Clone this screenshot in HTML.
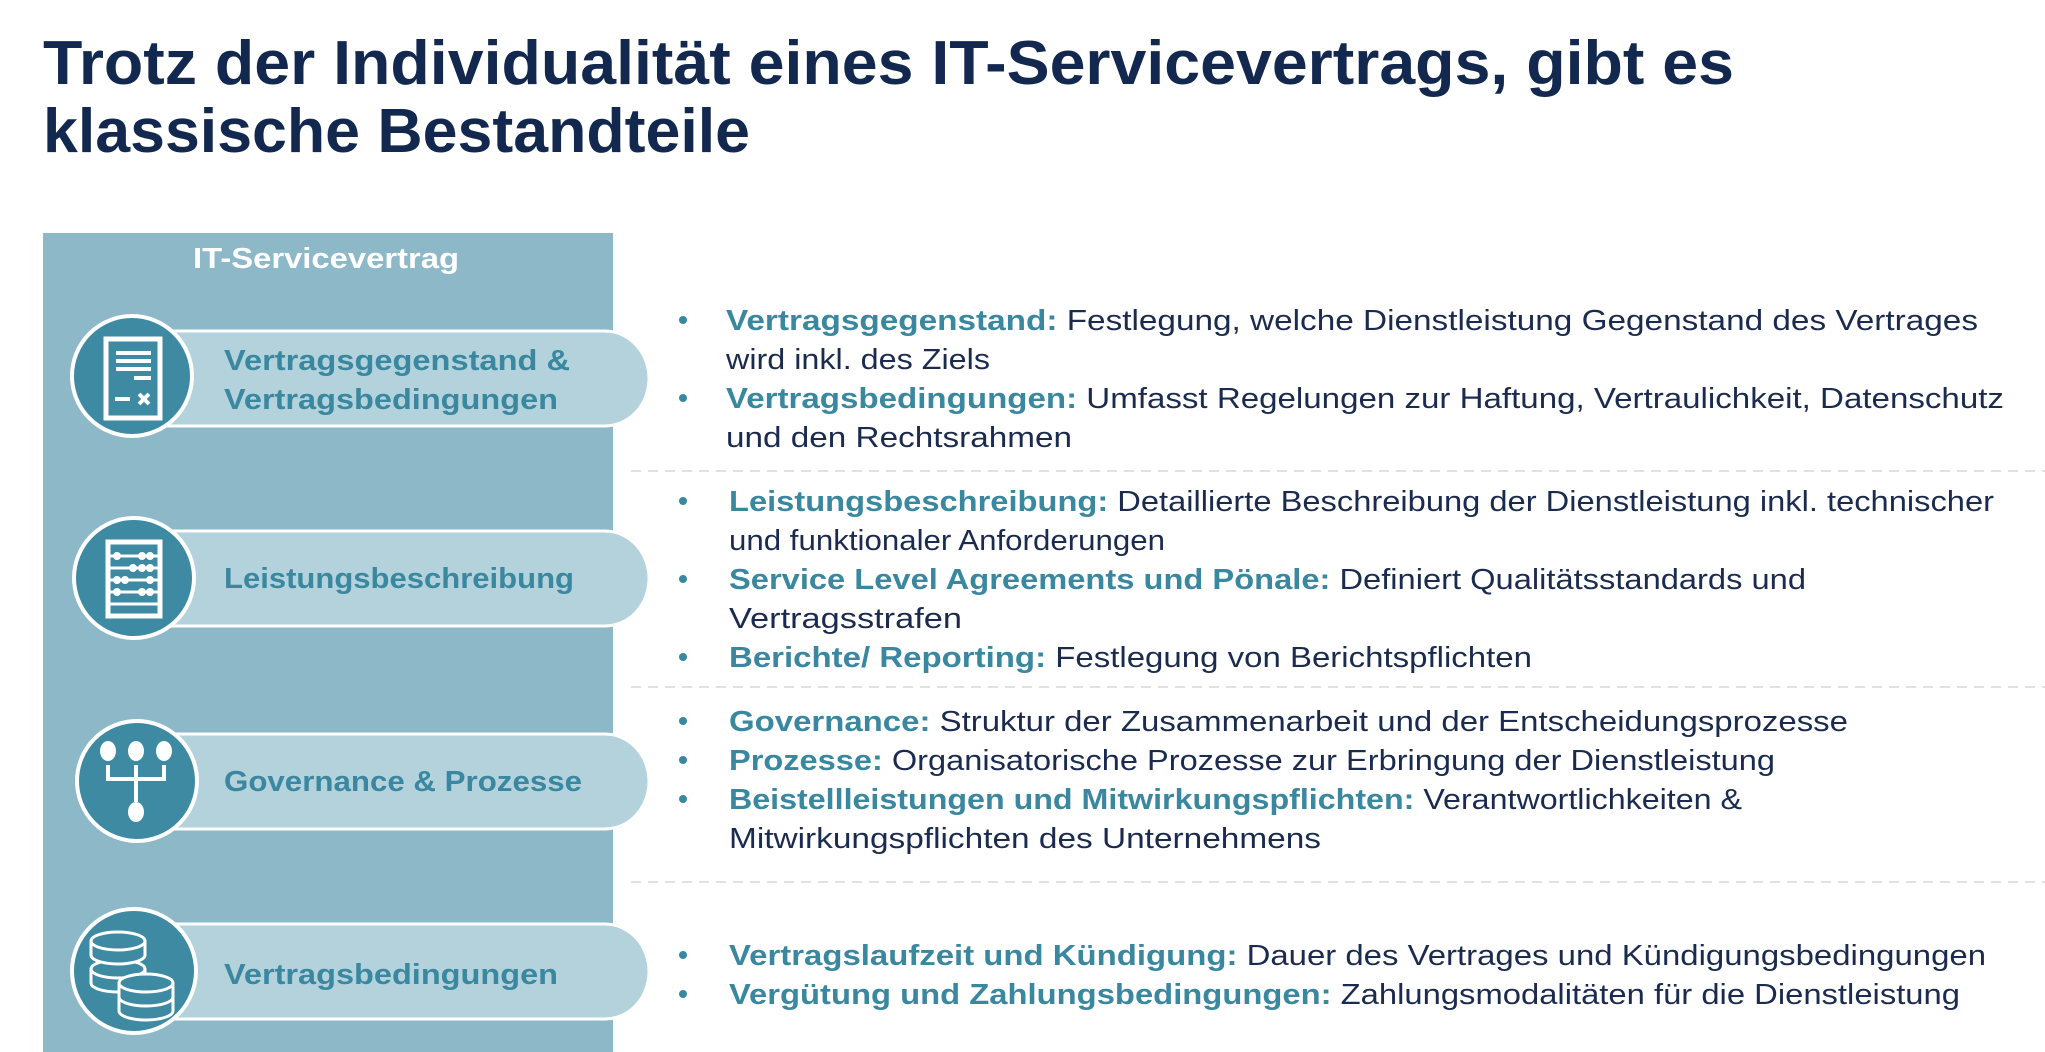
<!DOCTYPE html>
<html><head><meta charset="utf-8"><style>
html,body{margin:0;padding:0;background:#fff;}
svg{display:block;}
text{font-family:"Liberation Sans",sans-serif;}
.t{fill:#13284f;font-weight:bold;font-size:62px;}
.p{fill:#3a87a0;font-weight:bold;font-size:29px;}
.b{fill:#1b2b4f;font-size:29px;}
.k{fill:#3a87a0;font-weight:bold;}
</style></head><body>
<svg width="2045" height="1052" viewBox="0 0 2045 1052" xmlns="http://www.w3.org/2000/svg">
<text class="t" x="43" y="84" textLength="1691" lengthAdjust="spacingAndGlyphs">Trotz der Individualität eines IT-Servicevertrags, gibt es</text>
<text class="t" x="43" y="152" textLength="707" lengthAdjust="spacingAndGlyphs">klassische Bestandteile</text>

<rect x="43" y="233" width="570" height="819" fill="#8cb8c8"/>
<text x="326" y="268" text-anchor="middle" fill="#fff" font-weight="bold" font-size="29" textLength="266" lengthAdjust="spacingAndGlyphs">IT-Servicevertrag</text>

<g stroke="#fff" stroke-width="3" fill="#b3d2dc">
<path d="M130 331 H605 A44 47.5 0 0 1 605 426 H130 Z"/>
<path d="M130 531 H605 A44 47.5 0 0 1 605 626 H130 Z"/>
<path d="M130 734 H605 A44 47.5 0 0 1 605 829 H130 Z"/>
<path d="M130 924 H605 A44 47.5 0 0 1 605 1019 H130 Z"/>
</g>
<g stroke="#fff" stroke-width="4" fill="#3e8aa2">
<circle cx="132" cy="376" r="60"/>
<circle cx="134" cy="578" r="60"/>
<circle cx="137" cy="781" r="60"/>
<circle cx="134" cy="971" r="62"/>
</g>
<!-- icon 1 document -->
<g fill="none" stroke="#fff" stroke-width="5">
<rect x="106" y="339" width="54" height="79"/>
</g>
<g stroke="#fff" stroke-width="4">
<line x1="116" y1="353" x2="151" y2="353"/><line x1="116" y1="361" x2="151" y2="361"/>
<line x1="116" y1="369" x2="151" y2="369"/><line x1="134" y1="378" x2="151" y2="378"/>
<line x1="115" y1="399" x2="130" y2="399"/>
<line x1="139" y1="394" x2="149" y2="404"/><line x1="149" y1="394" x2="139" y2="404"/>
</g>
<!-- icon 2 abacus -->
<rect x="108" y="542" width="52" height="74" fill="none" stroke="#fff" stroke-width="5"/>
<g stroke="#fff" stroke-width="3">
<line x1="110" y1="556" x2="158" y2="556"/><line x1="110" y1="568" x2="158" y2="568"/>
<line x1="110" y1="580" x2="158" y2="580"/><line x1="110" y1="592" x2="158" y2="592"/>
<line x1="110" y1="604" x2="158" y2="604"/>
</g>
<g fill="#fff">
<circle cx="117" cy="556" r="4"/><circle cx="142" cy="556" r="4"/><circle cx="150" cy="556" r="4"/>
<circle cx="133" cy="568" r="4"/><circle cx="142" cy="568" r="4"/><circle cx="150" cy="568" r="4"/>
<circle cx="117" cy="580" r="4"/><circle cx="125" cy="580" r="4"/><circle cx="150" cy="580" r="4"/>
<circle cx="117" cy="592" r="4"/><circle cx="142" cy="592" r="4"/><circle cx="150" cy="592" r="4"/>
</g>
<!-- icon 3 governance -->
<g fill="#fff"><ellipse cx="108" cy="751" rx="8" ry="10"/><ellipse cx="136" cy="751" rx="8" ry="10"/><ellipse cx="164" cy="751" rx="8" ry="10"/><ellipse cx="136" cy="812" rx="8" ry="10"/></g>
<path d="M108 765 V779 H164 V765 M136 765 V802" fill="none" stroke="#fff" stroke-width="4"/>
<!-- icon 4 coins -->
<g fill="#3e8aa2" stroke="#fff" stroke-width="3" transform="translate(0,17)">
<ellipse cx="118" cy="966" rx="27" ry="9"/><rect x="91" y="952" width="54" height="14" stroke="none"/>
<path d="M91 952 V966 M145 952 V966"/>
<ellipse cx="118" cy="952" rx="27" ry="9"/>
<ellipse cx="118" cy="938" rx="27" ry="9"/><rect x="91" y="924" width="54" height="14" stroke="none"/>
<path d="M91 924 V938 M145 924 V938"/>
<ellipse cx="118" cy="924" rx="27" ry="9"/>
<ellipse cx="146" cy="994" rx="27" ry="9"/><rect x="119" y="980" width="54" height="14" stroke="none"/>
<path d="M119 980 V994 M173 980 V994"/>
<ellipse cx="146" cy="980" rx="27" ry="9"/>
<rect x="119" y="966" width="54" height="14" stroke="none"/>
<path d="M119 966 V980 M173 966 V980"/>
<ellipse cx="146" cy="966" rx="27" ry="9"/>
</g>

<text class="p" x="224" y="370" textLength="346" lengthAdjust="spacingAndGlyphs">Vertragsgegenstand &amp;</text>
<text class="p" x="224" y="409" textLength="334" lengthAdjust="spacingAndGlyphs">Vertragsbedingungen</text>
<text class="p" x="224" y="588" textLength="350" lengthAdjust="spacingAndGlyphs">Leistungsbeschreibung</text>
<text class="p" x="224" y="791" textLength="358" lengthAdjust="spacingAndGlyphs">Governance &amp; Prozesse</text>
<text class="p" x="224" y="984" textLength="334" lengthAdjust="spacingAndGlyphs">Vertragsbedingungen</text>

<g stroke="#e2e2dc" stroke-width="2" stroke-dasharray="10 7">
<line x1="631" y1="471" x2="2045" y2="471"/>
<line x1="631" y1="687" x2="2045" y2="687"/>
<line x1="631" y1="882" x2="2045" y2="882"/>
</g>
<g fill="#3a87a0">
<circle cx="683" cy="320" r="4"/><circle cx="683" cy="398" r="4"/>
<circle cx="683" cy="501" r="4"/><circle cx="683" cy="579" r="4"/><circle cx="683" cy="657" r="4"/>
<circle cx="683" cy="721" r="4"/><circle cx="683" cy="760" r="4"/><circle cx="683" cy="799" r="4"/>
<circle cx="683" cy="955" r="4"/><circle cx="683" cy="994" r="4"/>
</g>
<text class="b" x="726" y="330" textLength="1252" lengthAdjust="spacingAndGlyphs"><tspan class="k">Vertragsgegenstand:</tspan> Festlegung, welche Dienstleistung Gegenstand des Vertrages</text>
<text class="b" x="726" y="369" textLength="264" lengthAdjust="spacingAndGlyphs">wird inkl. des Ziels</text>
<text class="b" x="726" y="408" textLength="1278" lengthAdjust="spacingAndGlyphs"><tspan class="k">Vertragsbedingungen:</tspan> Umfasst Regelungen zur Haftung, Vertraulichkeit, Datenschutz</text>
<text class="b" x="726" y="447" textLength="346" lengthAdjust="spacingAndGlyphs">und den Rechtsrahmen</text>

<text class="b" x="729" y="511" textLength="1265" lengthAdjust="spacingAndGlyphs"><tspan class="k">Leistungsbeschreibung:</tspan> Detaillierte Beschreibung der Dienstleistung inkl. technischer</text>
<text class="b" x="729" y="550" textLength="436" lengthAdjust="spacingAndGlyphs">und funktionaler Anforderungen</text>
<text class="b" x="729" y="589" textLength="1077" lengthAdjust="spacingAndGlyphs"><tspan class="k">Service Level Agreements und Pönale:</tspan> Definiert Qualitätsstandards und</text>
<text class="b" x="729" y="628" textLength="233" lengthAdjust="spacingAndGlyphs">Vertragsstrafen</text>
<text class="b" x="729" y="667" textLength="803" lengthAdjust="spacingAndGlyphs"><tspan class="k">Berichte/ Reporting:</tspan> Festlegung von Berichtspflichten</text>

<text class="b" x="729" y="731" textLength="1119" lengthAdjust="spacingAndGlyphs"><tspan class="k">Governance:</tspan> Struktur der Zusammenarbeit und der Entscheidungsprozesse</text>
<text class="b" x="729" y="770" textLength="1046" lengthAdjust="spacingAndGlyphs"><tspan class="k">Prozesse:</tspan> Organisatorische Prozesse zur Erbringung der Dienstleistung</text>
<text class="b" x="729" y="809" textLength="1013" lengthAdjust="spacingAndGlyphs"><tspan class="k">Beistellleistungen und Mitwirkungspflichten:</tspan> Verantwortlichkeiten &amp;</text>
<text class="b" x="729" y="848" textLength="592" lengthAdjust="spacingAndGlyphs">Mitwirkungspflichten des Unternehmens</text>

<text class="b" x="729" y="965" textLength="1257" lengthAdjust="spacingAndGlyphs"><tspan class="k">Vertragslaufzeit und Kündigung:</tspan> Dauer des Vertrages und Kündigungsbedingungen</text>
<text class="b" x="729" y="1004" textLength="1231" lengthAdjust="spacingAndGlyphs"><tspan class="k">Vergütung und Zahlungsbedingungen:</tspan> Zahlungsmodalitäten für die Dienstleistung</text>
</svg>
</body></html>
